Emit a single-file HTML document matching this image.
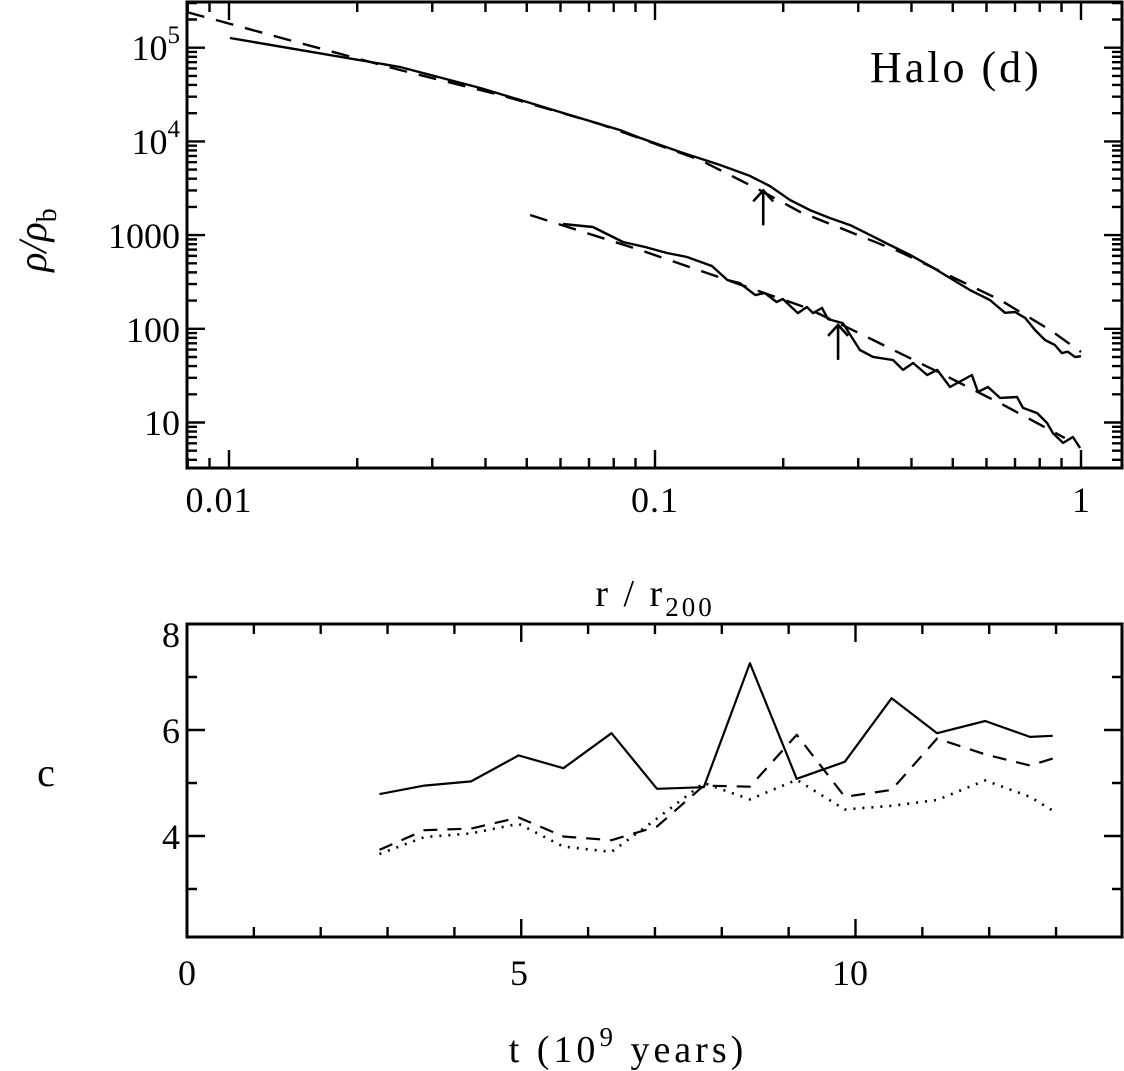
<!DOCTYPE html>
<html><head><meta charset="utf-8"><style>
html,body{margin:0;padding:0;background:#fff;}
svg{display:block;font-family:"Liberation Serif",serif;}
</style></head><body>
<svg id="fig" width="1124" height="1071" viewBox="0 0 1124 1071">
<g id="topPanel"></g>
<g id="botPanel"></g>
<text x="870" y="82" font-size="44" letter-spacing="3">Halo (d)</text>
<text x="219" y="512" font-size="36" letter-spacing="1" text-anchor="middle">0.01</text>
<text x="655" y="512" font-size="36" letter-spacing="1" text-anchor="middle">0.1</text>
<text x="1081" y="512" font-size="36" text-anchor="middle">1</text>
<text x="180" y="60" font-size="36" text-anchor="end">10<tspan dy="-17" font-size="25">5</tspan></text>
<text x="180" y="154" font-size="36" text-anchor="end">10<tspan dy="-17" font-size="25">4</tspan></text>
<text x="180" y="248" font-size="36" text-anchor="end">1000</text>
<text x="180" y="342" font-size="36" text-anchor="end">100</text>
<text x="180" y="435" font-size="36" text-anchor="end">10</text>
<text x="655" y="606" font-size="38" letter-spacing="3" text-anchor="middle">r / r<tspan dy="10" font-size="27">200</tspan></text>
<text transform="translate(46,240) rotate(-90)" font-size="40" text-anchor="middle" font-style="italic">ρ/ρ<tspan dy="10" font-size="28" font-style="normal">b</tspan></text>
<text x="180" y="647" font-size="36" text-anchor="end">8</text>
<text x="180" y="743" font-size="36" text-anchor="end">6</text>
<text x="180" y="849" font-size="36" text-anchor="end">4</text>
<text x="187" y="985" font-size="36" text-anchor="middle">0</text>
<text x="519" y="985" font-size="36" text-anchor="middle">5</text>
<text x="850" y="985" font-size="36" text-anchor="middle">10</text>
<text x="46" y="786" font-size="40" text-anchor="middle">c</text>
<text x="628" y="1062" font-size="38" letter-spacing="4" text-anchor="middle">t (10<tspan dy="-16" font-size="27">9</tspan><tspan dy="16"> years)</tspan></text>
</svg>
<script>
// ---- top panel data ----
const upperR=[0.01005,0.0252,0.0388,0.0482,0.0598,0.0828,0.0922,0.1146,0.1422,0.167,0.186,0.2075,0.231,0.2576,0.287,0.320,0.356,0.397,0.442,0.492,0.548,0.611,0.663,0.700,0.739,0.780,0.823,0.869,0.902,0.931,0.968,1.0];
const upperRho=[127000,62200,37200,27700,20600,13200,10900,7700,5600,4280,3340,2370,1850,1520,1280,1000,785,614,469,349,260,203,148,151,131,97,76,67,55,57,50,51];
const upperFitR=[0.00797,0.0147,0.0252,0.0433,0.0743,0.1276,0.176,0.219,0.376,0.646,0.846,1.0];
const upperFitRho=[240000,112000,57800,31300,15300,6330,3030,1770,661,203,97,56.5];
const lowerR=[0.0608,0.0715,0.0841,0.0948,0.1067,0.1189,0.136,0.148,0.158,0.172,0.181,0.193,0.1995,0.2165,0.2273,0.235,0.2466,0.2547,0.276,0.3027,0.325,0.362,0.382,0.4035,0.4355,0.4596,0.4926,0.528,0.5546,0.5728,0.605,0.6456,0.7077,0.731,0.789,0.832,0.859,0.908,0.957,0.995];
const lowerRho=[1312,1219,843,746,644,584,468,331,308,229,241,193,208,147,171,147,167,127,115,59.4,50.1,46.5,36.4,43.2,32.1,36.4,23.9,28.4,32.1,21.2,23.9,18.3,18.7,14.3,12.6,9.9,7.7,6.05,7.0,5.35];
const lowerFitR=[0.0509,0.0922,0.1324,0.2273,0.325,0.4667,0.670,0.916];
const lowerFitRho=[1637,693,394,167,76,33.8,14.7,6.84];
const arrowR=[0.1795,0.269];
const arrowRho=[3000,110];
// ---- bottom panel data ----
const times=[2.88,3.55,4.25,4.96,5.63,6.35,7.03,7.73,8.42,9.12,9.84,10.54,11.22,11.94,12.61,12.95];
const cSolid=[4.79,4.95,5.03,5.52,5.28,5.94,4.89,4.92,7.26,5.08,5.40,6.60,5.94,6.17,5.87,5.89];
const cDashed=[3.74,4.11,4.14,4.35,3.99,3.92,4.18,4.95,4.93,5.91,4.74,4.87,5.84,5.54,5.33,5.46];
const cDotted=[3.66,3.98,4.05,4.23,3.80,3.70,4.33,5.00,4.69,5.06,4.50,4.57,4.68,5.05,4.74,4.48];

const NS="http://www.w3.org/2000/svg";
function mk(tag,attrs,parent){const e=document.createElementNS(NS,tag);for(const k in attrs)e.setAttribute(k,attrs[k]);parent.appendChild(e);return e;}

const T={x0:187,x1:1122,y0:2,y1:468};
const lx=v=>655+(Math.log10(v)+1)*426;
const ly=v=>47.7+(5-Math.log10(v))*93.7;
const topG=document.getElementById('topPanel');
const clip=mk('clipPath',{id:'ct'},topG);
mk('rect',{x:T.x0,y:T.y0,width:T.x1-T.x0,height:T.y1-T.y0},clip);
function series(parent,xs,ys,fx,fy,dash,name,clipId,w){
  const d=xs.map((x,i)=>(i?'L':'M')+fx(x).toFixed(1)+','+fy(ys[i]).toFixed(1)).join('');
  const p=mk('path',{d:d,fill:'none',stroke:'#000','stroke-width':w||2.4,'stroke-linejoin':'round'},parent);
  if(dash)p.setAttribute('stroke-dasharray',dash);
  if(clipId)p.setAttribute('clip-path','url(#'+clipId+')');
  
  
}
series(topG,upperR,upperRho,lx,ly,null,'upper-profile-line','ct');
series(topG,upperFitR,upperFitRho,lx,ly,'18,12','upper-fit-dashed','ct');
series(topG,lowerR,lowerRho,lx,ly,null,'lower-profile-line','ct');
series(topG,lowerFitR,lowerFitRho,lx,ly,'18,12','lower-fit-dashed','ct');
arrowR.forEach((r,i)=>{
  const x=lx(r),yt=ly(arrowRho[i]);
  const a=mk('path',{d:`M${x},${yt+35}L${x},${yt}M${x-10},${yt+11}L${x},${yt}L${x+10},${yt+11}`,fill:'none',stroke:'#000','stroke-width':2.6},topG);
  
  
});
let tk='';
for(let dec=-3;dec<=0;dec++)for(let m=1;m<10;m++){const v=m*Math.pow(10,dec);const x=lx(v);if(x<T.x0||x>T.x1)continue;const L=m==1?18:10;tk+=`M${x},${T.y1}v${-L}M${x},${T.y0}v${L}`;}
for(let dec=0;dec<=5;dec++)for(let m=1;m<10;m++){const v=m*Math.pow(10,dec);const y=ly(v);if(y<T.y0||y>T.y1)continue;const L=m==1?18:10;tk+=`M${T.x0},${y}h${L}M${T.x1},${y}h${-L}`;}
const tt=mk('path',{d:tk,stroke:'#000','stroke-width':2.4,fill:'none'},topG);


const tf=mk('rect',{x:T.x0,y:T.y0,width:T.x1-T.x0,height:T.y1-T.y0,fill:'none',stroke:'#000','stroke-width':3},topG);



const B={x0:187,x1:1122,y0:624,y1:937};
const bx=t=>187+t*66.85;
const by=c=>624+(8-c)*53;
const botG=document.getElementById('botPanel');
series(botG,times,cSolid,bx,by,null,'c-solid-line',null,2.2);
series(botG,times,cDashed,bx,by,'14,10','c-dashed-line',null,2.2);
series(botG,times,cDotted,bx,by,'2,7','c-dotted-line',null,2.6);
let bk='';
for(let t=1;t<14;t++){const x=bx(t);const L=t%5==0?18:10;bk+=`M${x},${B.y1}v${-L}M${x},${B.y0}v${L}`;}
for(let c=3;c<8;c++){const y=by(c);const L=c%2==0?18:10;bk+=`M${B.x0},${y}h${L}M${B.x1},${y}h${-L}`;}
const bt=mk('path',{d:bk,stroke:'#000','stroke-width':2.4,fill:'none'},botG);


const bf=mk('rect',{x:B.x0,y:B.y0,width:B.x1-B.x0,height:B.y1-B.y0,fill:'none',stroke:'#000','stroke-width':3},botG);


</script>
</body></html>
